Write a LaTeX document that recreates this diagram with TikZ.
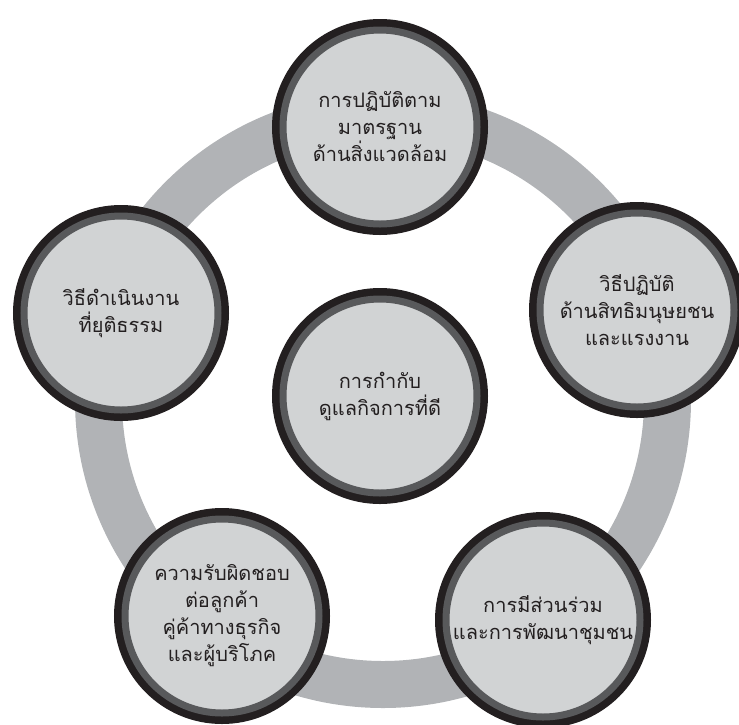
\documentclass[tikz,border=0pt]{standalone}
\usepackage{fontspec}
\newfontfamily\thaifont[Script=Thai]{Loma}
\definecolor{ringgray}{HTML}{B1B3B6}
\definecolor{fillgray}{HTML}{D1D3D4}
\definecolor{edgegray}{HTML}{58595B}
\definecolor{edgeblack}{HTML}{231F20}
\begin{document}
\begin{tikzpicture}[x=1pt,y=-1pt,
  bubble/.style={circle, inner sep=0pt, outer sep=0pt, minimum size=194pt,
    fill=fillgray, draw=edgegray, line width=7pt,
    preaction={draw=edgeblack, line width=22pt},
    text=edgeblack, align=center,
    font=\thaifont\fontsize{20}{27}\selectfont}]
\useasboundingbox (0,0) rectangle (739,724);
\coordinate (ringc) at (383,400);
\draw[ringgray, line width=47pt] (ringc) circle[radius=284.5pt];
\node[bubble] (top) at (380,127) {การปฏิบัติตาม\\มาตรฐาน\\ด้านสิ่งแวดล้อม};
\node[bubble] (left) at (121,313) {วิธีดำเนินงาน\\ที่ยุติธรรม};
\node[bubble] (right) at (637,310) {วิธีปฏิบัติ\\ด้านสิทธิมนุษยชน\\และแรงงาน};
\node[bubble] (bl) at (222,616) {ความรับผิดชอบ\\ต่อลูกค้า\\คู่ค้าทางธุรกิจ\\และผู้บริโภค};
\node[bubble] (br) at (543,620) {การมีส่วนร่วม\\และการพัฒนาชุมชน};
\node[bubble] (center) at (380,396) {การกำกับ\\ดูแลกิจการที่ดี};
\end{tikzpicture}
\end{document}
